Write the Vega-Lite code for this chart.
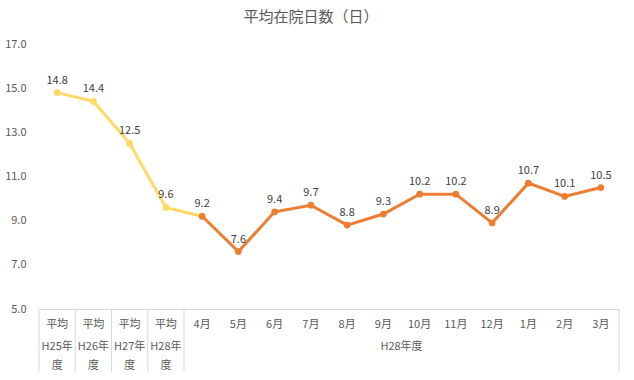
{
  "$schema": "https://vega.github.io/schema/vega-lite/v6.json",
  "width": 580,
  "height": 265,
  "autosize": "none",
  "padding": {"left": 39, "top": 44, "right": 15, "bottom": 71},
  "background": "white",
  "title": {
    "text": "平均在院日数（日）",
    "fontSize": 15,
    "font": "Noto Sans CJK JP",
    "fontWeight": "normal",
    "color": "#595959",
    "anchor": "middle",
    "offset": 13,
    "dx": -18
  },
  "config": {
    "view": {"stroke": null},
    "font": "Noto Sans CJK JP"
  },
  "datasets": {
    "avg": [
      {"cat": "平均 H25年度", "value": 14.8},
      {"cat": "平均 H26年度", "value": 14.4},
      {"cat": "平均 H27年度", "value": 12.5},
      {"cat": "平均 H28年度", "value": 9.6},
      {"cat": "4月", "value": 9.2}
    ],
    "month": [
      {"cat": "4月", "value": 9.2},
      {"cat": "5月", "value": 7.6},
      {"cat": "6月", "value": 9.4},
      {"cat": "7月", "value": 9.7},
      {"cat": "8月", "value": 8.8},
      {"cat": "9月", "value": 9.3},
      {"cat": "10月", "value": 10.2},
      {"cat": "11月", "value": 10.2},
      {"cat": "12月", "value": 8.9},
      {"cat": "1月", "value": 10.7},
      {"cat": "2月", "value": 10.1},
      {"cat": "3月", "value": 10.5}
    ],
    "labels": [
      {"cat": "平均 H25年度", "value": 14.8},
      {"cat": "平均 H26年度", "value": 14.4},
      {"cat": "平均 H27年度", "value": 12.5},
      {"cat": "平均 H28年度", "value": 9.6},
      {"cat": "4月", "value": 9.2},
      {"cat": "5月", "value": 7.6},
      {"cat": "6月", "value": 9.4},
      {"cat": "7月", "value": 9.7},
      {"cat": "8月", "value": 8.8},
      {"cat": "9月", "value": 9.3},
      {"cat": "10月", "value": 10.2},
      {"cat": "11月", "value": 10.2},
      {"cat": "12月", "value": 8.9},
      {"cat": "1月", "value": 10.7},
      {"cat": "2月", "value": 10.1},
      {"cat": "3月", "value": 10.5}
    ],
    "group2": [
      {"cat": "平均 H25年度", "text": "H25年\n度"},
      {"cat": "平均 H26年度", "text": "H26年\n度"},
      {"cat": "平均 H27年度", "text": "H27年\n度"},
      {"cat": "平均 H28年度", "text": "H28年\n度"}
    ],
    "monthgroup": [
      {"cat": "9月", "text": "H28年度"}
    ],
    "sepStart": [
      {"cat": "平均 H25年度"},
      {"cat": "平均 H26年度"},
      {"cat": "平均 H27年度"},
      {"cat": "平均 H28年度"},
      {"cat": "4月"}
    ],
    "sepEnd": [
      {"cat": "3月"}
    ]
  },
  "encoding": {
    "x": {
      "field": "cat",
      "type": "nominal",
      "sort": null,
      "scale": {
        "type": "band",
        "paddingInner": 0,
        "paddingOuter": 0,
        "domain": ["平均 H25年度", "平均 H26年度", "平均 H27年度", "平均 H28年度", "4月", "5月", "6月", "7月", "8月", "9月", "10月", "11月", "12月", "1月", "2月", "3月"]
      },
      "axis": {
        "title": null,
        "labelAngle": 0,
        "ticks": false,
        "domainColor": "#d9d9d9",
        "labelColor": "#595959",
        "labelFontSize": 11,
        "labelPadding": 9,
        "labelExpr": "indexof(datum.value, '平均') == 0 ? '平均' : datum.value",
        "grid": false
      }
    }
  },
  "layer": [
    {
      "data": {"name": "sepStart"},
      "mark": {"type": "rule", "color": "#d9d9d9", "strokeWidth": 1, "clip": false},
      "encoding": {
        "x": {"field": "cat", "type": "nominal", "bandPosition": 0},
        "y": {"datum": 5},
        "y2": {"datum": 2.15}
      }
    },
    {
      "data": {"name": "sepEnd"},
      "mark": {"type": "rule", "color": "#d9d9d9", "strokeWidth": 1, "clip": false},
      "encoding": {
        "x": {"field": "cat", "type": "nominal", "bandPosition": 1},
        "y": {"datum": 5},
        "y2": {"datum": 2.15}
      }
    },
    {
      "data": {"name": "avg"},
      "mark": {"type": "line", "color": "#FFD966", "strokeWidth": 3, "point": {"filled": true, "size": 45, "color": "#FFD966"}},
      "encoding": {
        "y": {
          "field": "value",
          "type": "quantitative",
          "scale": {"domain": [5, 17], "nice": false, "zero": false},
          "axis": {
            "title": null,
            "values": [5, 7, 9, 11, 13, 15, 17],
            "format": ".1f",
            "domain": false,
            "ticks": false,
            "gridColor": "#d9d9d9",
            "labelColor": "#595959",
            "labelFontSize": 11,
            "labelPadding": 13
          }
        }
      }
    },
    {
      "data": {"name": "month"},
      "mark": {"type": "line", "color": "#ED7D31", "strokeWidth": 3, "point": {"filled": true, "size": 45, "color": "#ED7D31"}},
      "encoding": {
        "y": {"field": "value", "type": "quantitative"}
      }
    },
    {
      "data": {"name": "labels"},
      "mark": {"type": "text", "fontSize": 11, "color": "#404040", "baseline": "bottom", "dy": -7},
      "encoding": {
        "y": {"field": "value", "type": "quantitative"},
        "text": {"field": "value", "type": "quantitative", "format": ".1f"}
      }
    },
    {
      "data": {"name": "group2"},
      "mark": {"type": "text", "fontSize": 11, "color": "#595959", "baseline": "top", "lineBreak": "\n", "lineHeight": 19, "dy": 32, "clip": false},
      "encoding": {
        "y": {"datum": 5},
        "text": {"field": "text"}
      }
    },
    {
      "data": {"name": "monthgroup"},
      "mark": {"type": "text", "fontSize": 11, "color": "#595959", "baseline": "top", "dy": 32, "clip": false},
      "encoding": {
        "x": {"field": "cat", "type": "nominal", "bandPosition": 1},
        "y": {"datum": 5},
        "text": {"field": "text"}
      }
    }
  ]
}
